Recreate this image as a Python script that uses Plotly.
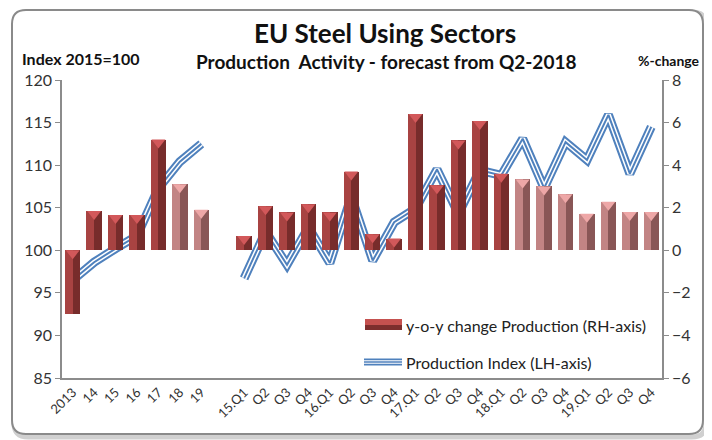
import plotly.graph_objects as go

# ---- data ----
annual_labels = ["2013", "14", "15", "16", "17", "18", "19"]
annual_yoy = [-3.0, 1.85, 1.66, 1.66, 5.2, 3.1, 1.9]
annual_index = [96.5, 98.6, 100.2, 101.7, 107.3, 110.4, 112.5]
annual_forecast = [False, False, False, False, False, True, True]

quarter_labels = ["15.Q1", "Q2", "Q3", "Q4", "16.Q1", "Q2", "Q3", "Q4",
                  "17.Q1", "Q2", "Q3", "Q4", "18.Q1", "Q2", "Q3", "Q4",
                  "19.Q1", "Q2", "Q3", "Q4"]
quarter_yoy = [0.67, 2.07, 1.78, 2.16, 1.78, 3.7, 0.75, 0.55,
               6.4, 3.05, 5.16, 6.07, 3.6, 3.33, 3.0, 2.63,
               1.72, 2.28, 1.8, 1.8]
quarter_index = [96.7, 102.2, 98.3, 102.7, 98.5, 106.3, 98.8, 103.3,
                 104.9, 109.5, 104.3, 109.4, 108.8, 113.1, 107.3, 112.7,
                 110.6, 115.9, 109.0, 114.5]
quarter_forecast = [False] * 13 + [True] * 7

# ---- assemble with a gap between annual and quarterly blocks ----
labels = annual_labels + [""] + quarter_labels
yoy = annual_yoy + [None] + quarter_yoy
index = annual_index + [None] + quarter_index
forecast = annual_forecast + [False] + quarter_forecast
xpos = list(range(len(labels)))

ACT_L, ACT_R, ACT_T = "#A84342", "#772C2B", "#D2585A"
FC_L, FC_R, FC_T = "#C28484", "#895656", "#EEA7A7"
BLUE = "#4F81BD"

left_cols = [FC_L if f else ACT_L for f in forecast]
right_cols = [FC_R if f else ACT_R for f in forecast]
top_cols = [FC_T if f else ACT_T for f in forecast]

# The page body adds an 8px margin: work in window pixels and compensate.
OFF = 8
WIN_W, WIN_H = 712, 440
# plot area in window pixels
L, R, T, B = 62, 662, 80, 378
Y2_RANGE = [-6, 8]
Y2_PER_PX = (Y2_RANGE[1] - Y2_RANGE[0]) / (B - T)
def px(x):
    return (x - L) / (R - L)
def py(y):
    return (B - y) / (B - T)

W_HALF = 0.36
CAP_SIZE = 12
# bevel cap: triangle-down marker whose top edge sits on the bar top
cap_y = [None if v is None else max(v, 0) - (CAP_SIZE / 4) * Y2_PER_PX for v in yoy]

fig = go.Figure()
fig.add_trace(go.Bar(x=xpos, y=yoy, yaxis="y2", width=W_HALF, offset=-W_HALF,
                     marker=dict(color=left_cols, line=dict(width=0)),
                     name="y-o-y change Production (RH-axis)", showlegend=False))
fig.add_trace(go.Bar(x=xpos, y=yoy, yaxis="y2", width=W_HALF, offset=0,
                     marker=dict(color=right_cols, line=dict(width=0)),
                     showlegend=False))
fig.add_trace(go.Scatter(x=xpos, y=cap_y, yaxis="y2", mode="markers",
                         marker=dict(symbol="triangle-down", size=CAP_SIZE,
                                     color=top_cols, line=dict(width=0)),
                         showlegend=False, hoverinfo="skip"))

fig.add_trace(go.Scatter(x=xpos, y=index, mode="lines", connectgaps=False,
                         line=dict(color=BLUE, width=9),
                         name="Production Index (LH-axis)", showlegend=False))
fig.add_trace(go.Scatter(x=xpos, y=index, mode="lines", connectgaps=False,
                         line=dict(color="white", width=5), showlegend=False,
                         hoverinfo="skip"))
fig.add_trace(go.Scatter(x=xpos, y=index, mode="lines", connectgaps=False,
                         line=dict(color=BLUE, width=2), showlegend=False,
                         hoverinfo="skip"))

FONT = "Lato"
tick_font = dict(family=FONT, size=16, color="#333333")

fig.update_layout(
    width=WIN_W - OFF, height=WIN_H - OFF,
    margin=dict(l=L - OFF, r=WIN_W - R, t=T - OFF, b=WIN_H - B),
    paper_bgcolor="white", plot_bgcolor="white",
    barmode="overlay", bargap=0,
    font=dict(family=FONT, color="#222222"),
    showlegend=False,
    xaxis=dict(range=[-0.5, len(labels) - 0.5], tickmode="array",
               tickvals=[i for i, l in enumerate(labels) if l],
               ticktext=[l for l in labels if l],
               tickangle=-45, tickfont=dict(family=FONT, size=13, color="#333333"),
               showgrid=False, zeroline=False, showline=True, linecolor="#8c8c8c",
               linewidth=1.5, ticks="", fixedrange=True),
    yaxis=dict(range=[85, 120], dtick=5, showgrid=False, zeroline=False,
               showline=True, linecolor="#8c8c8c", linewidth=1.5, ticks="outside",
               ticklen=5, tickcolor="#8c8c8c", tickfont=tick_font),
    yaxis2=dict(range=Y2_RANGE, dtick=2, overlaying="y", side="right",
                showgrid=False, zeroline=False, showline=True, linecolor="#8c8c8c",
                linewidth=1.5, ticks="outside", ticklen=5, tickcolor="#8c8c8c",
                tickfont=tick_font),
)

# titles / axis captions
def note(x, y, text, size, xanchor="center", color="#111111"):
    fig.add_annotation(x=px(x), y=py(y), xref="paper", yref="paper",
                       xanchor=xanchor, yanchor="middle", text=text, showarrow=False,
                       font=dict(family=FONT, size=size, color=color))

note(385, 33, "<b>EU Steel Using Sectors</b>", 26)
note(386, 62, "<b>Production\u00a0\u00a0Activity - forecast from Q2-2018</b>", 19)
note(20, 58, "<b>Index 2015=100</b>", 16, "left")
note(702, 60, "<b>%-change</b>", 14, "right")

# custom legend (symbols drawn as shapes, labels as text)
def rect(x0, y0, x1, y1, color):
    fig.add_shape(type="rect", xref="paper", yref="paper",
                  x0=px(x0), x1=px(x1), y0=py(y0), y1=py(y1),
                  fillcolor=color, line=dict(width=0))
rect(365, 319, 402, 325, "#C5514F")
rect(365, 325, 402, 330, "#7D2E2D")
for w, c in [(7, BLUE), (3.5, "white"), (1.5, BLUE)]:
    fig.add_shape(type="line", xref="paper", yref="paper",
                  x0=px(364), x1=px(402), y0=py(362), y1=py(362),
                  line=dict(color=c, width=w))
note(404, 325, "y-o-y change Production (RH-axis)", 16, "left", "#222222")
note(404, 362, "Production Index (LH-axis)", 16, "left", "#222222")

# rounded outer frame with a soft shadow
def rrect(x0, y0, x1, y1, r):
    return (f"M {px(x0 + r)},{py(y0)} L {px(x1 - r)},{py(y0)} "
            f"Q {px(x1)},{py(y0)} {px(x1)},{py(y0 + r)} "
            f"L {px(x1)},{py(y1 - r)} Q {px(x1)},{py(y1)} {px(x1 - r)},{py(y1)} "
            f"L {px(x0 + r)},{py(y1)} Q {px(x0)},{py(y1)} {px(x0)},{py(y1 - r)} "
            f"L {px(x0)},{py(y0 + r)} Q {px(x0)},{py(y0)} {px(x0 + r)},{py(y0)} Z")

fig.add_shape(type="path", path=rrect(14, 12, 706, 437, 14), xref="paper", yref="paper",
              line=dict(color="#d0d0d0", width=5), layer="below")
fig.add_shape(type="path", path=rrect(12, 10, 703, 434, 14), xref="paper", yref="paper",
              line=dict(color="#8a8a8a", width=2), fillcolor="white", layer="below")

fig.write_html("out.html")
